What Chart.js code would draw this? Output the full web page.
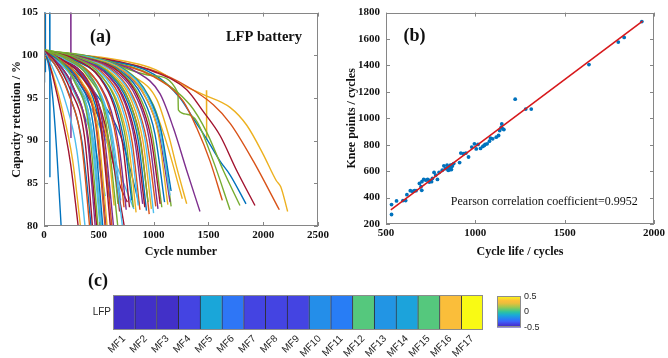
<!DOCTYPE html>
<html>
<head>
<meta charset="utf-8">
<script src="https://cdn.jsdelivr.net/npm/chart.js@4.4.1/dist/chart.umd.min.js"></script>
<style>
  html, body { margin: 0; padding: 0; background: #fff; }
  #wrap { position: relative; width: 668px; height: 358px; overflow: hidden; }
  #wrap canvas { position: absolute; }
  #lblC { position: absolute; left: 88px; top: 270px; font: bold 18px "Liberation Serif"; color: #111; }
</style>
</head>
<body>
<div id="wrap">
  <canvas id="ca" width="335" height="262" style="left:0;top:0"></canvas>
  <canvas id="cb" width="333" height="262" style="left:335px;top:0"></canvas>
  <canvas id="cc" width="428" height="73" style="left:60px;top:285px"></canvas>
  <canvas id="cd" width="60" height="48" style="left:490px;top:288px"></canvas>
  <div id="lblC">(c)</div>
</div>
<script>
// --- (a) capacity retention curves: [cycle, %, cycle, %, ...] -------------
// MATLAB default colour order, by letter
var PAL = { B: "#0072BD", O: "#D95319", Y: "#EDB120", P: "#7E2F8E",
  G: "#77AC30", C: "#4DBEEE", R: "#A2142F" };

// short-lived cells, run off the bottom of the axis
var shortCurves = [
  [0,100.2, 30,99.6, 80,95, 120,88, 165,78],
  [0,100.4, 50,98.9, 140,94.2, 240,87.5, 330,78],
  [0,100.1, 60,98.6, 160,94, 260,87.8, 350,78],
  [0,100.5, 70,98.8, 190,94.8, 300,88.8, 390,78],
  [0,100.3, 90,99.1, 220,95.6, 340,90, 430,78],
  [0,100.6, 100,99.3, 240,96, 370,90.4, 455,78],
  [0,100.3, 110,99.3, 260,96.4, 390,91, 480,78],
  [0,100.7, 120,99.7, 280,96.9, 410,91.6, 505,78],
  [0,100.2, 130,99.2, 295,96.5, 425,91.2, 525,78],
  [0,100.4, 140,99.4, 315,96.9, 450,91.8, 550,78],
  [0,100.3, 150,99.4, 330,96.9, 470,92, 570,78],
  [0,100.2, 160,99.3, 345,96.9, 485,92, 590,78],
  [0,100.5, 165,99.5, 360,97.2, 510,92.4, 620,78],
  [0,100.3, 175,99.4, 380,97.2, 530,92.4, 650,78],
  [0,100.6, 185,99.7, 400,97.5, 560,92.6, 690,78],
  [0,100.4, 190,99.5, 420,97.3, 590,92.2, 735,78],
  [0,100.3, 120,99.2, 270,96.2, 400,90.6, 495,78],
  [0,100.1, 95,99, 230,95.4, 350,89.6, 445,78],
  [0,100.4, 115,99.2, 265,96.3, 395,90.6, 500,78],
  [0,100.2, 170,99.4, 370,97, 520,92, 635,78],
  [0,100.3, 140,99.1, 305,96.4, 440,91, 540,78],
  [0,100.5, 180,99.5, 390,97.2, 560,91.8, 760,78],
  [0,100.4, 155,99.4, 340,96.8, 480,91.6, 580,78],
  [0,100.2, 130,99.3, 300,96.6, 435,91.2, 530,78]
];
var shortColors = "BRYCORPGCBOYRPGCRBYOCRPG";

// cells that end a little above 80 %
var midCurves = [
  [0,100.3, 210,99.2, 390,96.8, 492,93, 552,88.5, 600,83.2],
  [0,100.1, 224,99.1, 416,96.8, 525,93.2, 589,88.8, 640,82.4],
  [0,100.6, 236,99.6, 439,97.3, 554,93.8, 621,89.3, 675,82.6],
  [0,100.3, 245,99.3, 455,97, 574,93.5, 644,89, 700,83.0],
  [0,100.4, 256,99.4, 475,97.1, 599,93.6, 672,89.2, 730,82.2],
  [0,100.2, 262,99.2, 488,96.9, 615,93.4, 690,88.8, 750,81.9],
  [0,100.5, 273,99.6, 507,97.4, 640,94, 718,89.6, 780,82.2],
  [0,100.3, 280,99.4, 520,97.3, 656,93.9, 736,89.5, 800,83.0],
  [0,100.7, 285,99.7, 530,97.5, 668,94.2, 750,89.8, 815,82.2],
  [0,100.2, 294,99.3, 546,97.2, 689,93.9, 773,89.4, 840,81.6],
  [0,100.4, 301,99.5, 559,97.4, 705,94.1, 791,89.6, 860,82.4],
  [0,100.3, 306,99.5, 569,97.5, 718,94.3, 805,89.8, 875,81.9],
  [0,100.5, 315,99.6, 585,97.6, 738,94.4, 828,90, 900,82.6],
  [0,100.2, 322,99.4, 598,97.5, 754,94.2, 846,89.7, 920,82.2],
  [0,100.3, 327,99.5, 608,97.6, 767,94.4, 860,90, 935,81.8],
  [0,100.6, 333,99.7, 618,97.7, 779,94.6, 874,90.2, 950,82.8],
  [0,100.2, 343,99.5, 637,97.7, 804,94.5, 902,90, 980,82.0],
  [0,100.4, 350,99.6, 650,97.8, 820,94.6, 920,90.2, 1000,81.5],
  [0,100.3, 357,99.6, 663,97.8, 836,94.5, 938,90, 1020,82.3],
  [0,100.5, 364,99.7, 676,97.9, 853,94.8, 957,90.4, 1040,82.0],
  [0,100.4, 371,99.7, 689,98, 869,94.8, 975,90.4, 1060,82.6],
  [0,100.6, 376,99.8, 699,98, 882,94.9, 989,90.6, 1075,82.2],
  [0,100.3, 385,99.7, 715,98, 902,95, 1012,90.8, 1100,82.8],
  [0,100.2, 396,99.7, 735,98.1, 927,95.1, 1040,91, 1130,82.5],
  [0,100.4, 403,99.8, 748,98.1, 943,95.2, 1058,91, 1150,83.6],
  [0,100.3, 406,99.8, 754,98.1, 951,95.2, 1067,91.2, 1160,84.1],
  [0,100.2, 400,99.7, 740,98, 930,95, 1050,90.8, 1150,82.8],
  [0,100.5, 406,99.9, 754,98.2, 951,95.3, 1067,91.2, 1160,82.3],
  [0,100.4, 240,99.3, 450,96.9, 565,93.3, 635,88.6, 690,81.7],
  [0,100.3, 336,99.5, 624,97.6, 787,94.3, 883,89.9, 960,81.4],
  [0,100.3, 150,98.5, 300,95, 450,90, 560,83.5],
  [0,100.2, 200,98.6, 400,94.5, 600,89, 820,82],
  [0,100.1, 250,98.5, 500,95, 700,90.5, 870,82.5],
  [0,100.4, 180,98.9, 360,96, 540,91.5, 700,84.5, 760,82.8]
];
var midColors = "BYGCOPRBGYCOPRBGYCOPRGBYCBPGROCCBR";

// long-lived cells (top envelope)
var longCurves = [
  [0,100.2, 400,99.3, 780,97.4, 980,94.5, 1100,90.5, 1262,83.2],
  [0,100.3, 420,99.4, 820,97.5, 1030,94.8, 1140,90.5, 1210,86.9, 1302,82.6],
  [0,100.2, 450,99.5, 850,98, 1058,95.5, 1180,91.5, 1302,86.5, 1423,81.7],
  [0,100.4, 500,99.4, 1000,97.5, 1271,94.6, 1393,91.5, 1515,87.6, 1627,83.0],
  [0,100.6, 500,99.6, 1000,97.6, 1222,95.6, 1226,93.6, 1300,93.1, 1393,92.3, 1545,87.6, 1697,81.9],
  [0,100.5, 500,99.5, 1000,97.6, 1332,94.2, 1484,91, 1636,86.5, 1788,82.4],
  [0,100.3, 500,99.5, 1000,97.8, 1241,95, 1362,92.6, 1484,90.2, 1606,87.6, 1697,86.0, 1843,82.6],
  [0,100.5, 500,99.7, 1000,98.1, 1300,96, 1454,93.4, 1606,90.6, 1758,86.5, 1925,82.4],
  [0,100.2, 500,99.6, 1000,98.2, 1300,96.4, 1545,94.2, 1700,92, 1910,87.6, 2147,81.9],
  [0,100.3, 500,99.8, 1000,98.4, 1250,96.6, 1454,95.4, 1697,93.9, 1850,91.8, 2000,88.4, 2120,85.3, 2160,84.6, 2223,81.7]
];
var longColors = "YYPOGGBROY";

// measurement glitches (vertical spikes)
var glitchCurves = [
  [3,105.5, 5,96.8], [12,105.5, 13,98], [52,105.5, 54,85.7],
  [244,105.5, 246,90.3], [1482,95.9, 1484,90.1]
];
var glitchColors = "BBBPY";

// --- (b) knee point vs cycle life ------------------------------------------
var cycleLife = [531,531,559,595,610,617,636,647,659,668, 687,696,701,711,723,733,742,755,769,778,
  788,797,815,824,833,842,848,852,857,861, 866,870,879,912,919,934,947,962,980,995,
  1015,1029,1042,1055,1066,1079,1097,1117,1130,1136, 1145,1148,1154,1223,1282,1313,1636,1800,1833,1932,
  700,845,855,862,872,760,745,1160,1050,1085,1005];
var kneePoints = [272,347,375,377,377,422,452,447,452,452, 507,482,520,537,532,537,517,520,590,570,
  537,590,607,640,620,645,607,632,620,645, 612,637,657,665,737,732,737,707,782,807,
  802,772,787,802,807,827,845,857,870,907, 932,957,920,1145,1070,1070,1407,1577,1612,1732,
  455,625,610,628,650,545,530,915,795,850,768];
var fitX = [527, 1936];
var fitY = [307, 1735];

// --- (c) feature correlation heatmap ---------------------------------------
var mfLabels = ["MF1","MF2","MF3","MF4","MF5","MF6","MF7","MF8","MF9","MF10",
  "MF11","MF12","MF13","MF14","MF15","MF16","MF17"];
var mfValues = [-0.45,-0.45,-0.45,-0.38,-0.11,-0.25,-0.38,-0.38,-0.38,-0.18,
  -0.23,0.06,-0.16,-0.12,0.06,0.35,0.5];
var cbTicks = [-0.5, 0, 0.5];

// parula-like colour map stops [t, r, g, b]
var PARULA = [[0,62,38,168],[0.05,66,48,200],[0.10,70,60,220],[0.20,60,100,250],
  [0.27,40,125,245],[0.33,35,145,230],[0.40,25,170,215],[0.50,45,195,160],
  [0.56,85,200,125],[0.66,160,200,80],[0.78,235,190,60],[0.86,252,190,58],[1,249,250,20]];
function parula(v) {
  var t = Math.max(0, Math.min(1, (v - cbTicks[0]) / (cbTicks[2] - cbTicks[0])));
  for (var i = 0; i < PARULA.length - 1; i++) {
    var a = PARULA[i], b = PARULA[i + 1];
    if (t <= b[0]) {
      var f = (t - a[0]) / (b[0] - a[0]);
      return "rgb(" + Math.round(a[1] + (b[1] - a[1]) * f) + "," +
        Math.round(a[2] + (b[2] - a[2]) * f) + "," + Math.round(a[3] + (b[3] - a[3]) * f) + ")";
    }
  }
  return "rgb(249,250,20)";
}

// --- shared bits -------------------------------------------------------------
var INK = "#111";
var BOX = "#868686";
var SERIF = "Liberation Serif";
var tickFont = { family: SERIF, size: 11, weight: "bold" };
var titleFont = { family: SERIF, size: 12, weight: "bold" };
function plain(v) { return "" + v; }   // no thousands separators

// MATLAB-style box with inward tick marks
var frame = {
  id: "frame",
  afterDraw: function (chart, args, o) {
    var a = chart.chartArea, ctx = chart.ctx, t = o.tick || 0;
    ctx.save();
    ctx.strokeStyle = o.color; ctx.lineWidth = 1;
    ctx.strokeRect(Math.round(a.left) + 0.5, Math.round(a.top) + 0.5,
      Math.round(a.width) - 1, Math.round(a.height) - 1);
    if (t) {
      ctx.beginPath();
      chart.scales.x.ticks.forEach(function (k) {
        var p = Math.round(chart.scales.x.getPixelForValue(k.value)) + 0.5;
        ctx.moveTo(p, a.bottom); ctx.lineTo(p, a.bottom - t);
        ctx.moveTo(p, a.top); ctx.lineTo(p, a.top + t);
      });
      chart.scales.y.ticks.forEach(function (k) {
        var p = Math.round(chart.scales.y.getPixelForValue(k.value)) + 0.5;
        ctx.moveTo(a.left, p); ctx.lineTo(a.left + t, p);
        ctx.moveTo(a.right, p); ctx.lineTo(a.right - t, p);
      });
      ctx.stroke();
    }
    ctx.restore();
  }
};

// text placed at data coordinates
var notes = {
  id: "notes",
  afterDraw: function (chart, args, o) {
    var ctx = chart.ctx;
    ctx.save();
    (o.items || []).forEach(function (n) {
      ctx.font = n.font; ctx.fillStyle = INK;
      ctx.textAlign = n.align || "center"; ctx.textBaseline = "middle";
      ctx.fillText(n.text, chart.scales.x.getPixelForValue(n.x), chart.scales.y.getPixelForValue(n.y));
    });
    ctx.restore();
  }
};

function toPoints(flat) {
  var pts = [];
  for (var i = 0; i < flat.length; i += 2) pts.push({ x: flat[i], y: flat[i + 1] });
  return pts;
}
function curveSets(list, colors, smooth) {
  return list.map(function (c, i) {
    return { data: toPoints(c), borderColor: PAL[colors[i]], borderWidth: 1.4,
      pointRadius: 0, fill: false,
      cubicInterpolationMode: smooth ? "monotone" : "default", tension: 0 };
  });
}

function axisX(min, max, step, title, height) {
  return { type: "linear", min: min, max: max,
    ticks: { stepSize: step, font: tickFont, color: INK, padding: 3, maxRotation: 0, callback: plain },
    grid: { display: false, drawTicks: false }, border: { display: false },
    title: { display: true, text: title, font: titleFont, color: INK, padding: { top: 0, bottom: 3 } },
    afterFit: function (s) { s.height = height; } };
}
function axisY(min, max, step, title, width) {
  return { type: "linear", min: min, max: max,
    ticks: { stepSize: step, font: tickFont, color: INK, padding: 6, callback: plain },
    grid: { display: false, drawTicks: false }, border: { display: false },
    title: { display: true, text: title, font: titleFont, color: INK, padding: { top: 10, bottom: 0 } },
    afterFit: function (s) { s.width = width; } };
}

// --- (a) ---------------------------------------------------------------------
new Chart(document.getElementById("ca"), {
  type: "line",
  data: { datasets: curveSets(shortCurves, shortColors, true)
    .concat(curveSets(midCurves, midColors, true))
    .concat(curveSets(longCurves, longColors, true))
    .concat(curveSets(glitchCurves, glitchColors, false)) },
  options: {
    responsive: false, animation: false, events: [],
    layout: { padding: { left: 0, right: 17, top: 10, bottom: 0 } },
    plugins: {
      legend: { display: false }, tooltip: { enabled: false },
      frame: { color: BOX, tick: 4 },
      notes: { items: [
        { text: "(a)", x: 515, y: 102.05, font: "bold 18px 'Liberation Serif'" },
        { text: "LFP battery", x: 2007, y: 102.1, font: "bold 14.5px 'Liberation Serif'" }
      ] }
    },
    scales: {
      x: axisX(0, 2500, 500, "Cycle number", 36),
      y: axisY(80, 105, 5, "Capacity retention / %", 44)
    }
  },
  plugins: [frame, notes]
});

// --- (b) ---------------------------------------------------------------------
new Chart(document.getElementById("cb"), {
  type: "scatter",
  data: { datasets: [
    { type: "line", data: fitX.map(function (x, i) { return { x: x, y: fitY[i] }; }),
      borderColor: "#D7191C", borderWidth: 1.6, pointRadius: 0, order: 1 },
    { data: cycleLife.map(function (x, i) { return { x: x, y: kneePoints[i] }; }),
      backgroundColor: "#0072BD", borderWidth: 0, pointRadius: 1.9, order: 2 }
  ] },
  options: {
    responsive: false, animation: false, events: [],
    layout: { padding: { left: 0, right: 9, top: 11, bottom: 0 } },
    plugins: {
      legend: { display: false }, tooltip: { enabled: false },
      frame: { color: BOX, tick: 4 },
      notes: { items: [
        { text: "(b)", x: 659, y: 1620, font: "bold 18px 'Liberation Serif'" },
        { text: "Pearson correlation coefficient=0.9952", x: 863, y: 367, align: "left",
          font: "12px 'Liberation Serif'" }
      ] }
    },
    scales: {
      x: axisX(500, 2000, 500, "Cycle life / cycles", 38),
      y: axisY(200, 1800, 200, "Knee points / cycles", 51)
    }
  },
  plugins: [frame, notes]
});

// --- (c) heatmap -------------------------------------------------------------
var sansFont = { family: "Liberation Sans", size: 10 };
new Chart(document.getElementById("cc"), {
  type: "bar",
  data: { labels: mfLabels, datasets: [{
    data: mfLabels.map(function () { return [0, 1]; }),
    backgroundColor: mfValues.map(parula),
    borderColor: "#2e2e3a", borderWidth: { left: 1, right: 0, top: 0, bottom: 0 }, borderSkipped: false,
    barPercentage: 1, categoryPercentage: 1 }] },
  options: {
    responsive: false, animation: false, events: [],
    layout: { padding: { left: 0, right: 5, top: 10, bottom: 0 } },
    plugins: { legend: { display: false }, tooltip: { enabled: false },
      frame: { color: "#8c8c8c", tick: 0 } },
    scales: {
      x: { grid: { display: false, drawTicks: false }, border: { display: false },
        ticks: { minRotation: 45, maxRotation: 45, autoSkip: false, font: sansFont, color: "#262626", padding: 3 },
        afterFit: function (s) { s.height = 28; } },
      y: { min: 0, max: 1,
        afterBuildTicks: function (s) { s.ticks = [{ value: 0.5 }]; },
        ticks: { callback: function () { return "LFP"; }, font: sansFont, color: "#262626", padding: 2 },
        grid: { display: false, drawTicks: false }, border: { display: false },
        afterFit: function (s) { s.width = 53; } }
    }
  },
  plugins: [frame]
});

// --- (c) colour bar ----------------------------------------------------------
new Chart(document.getElementById("cd"), {
  type: "bar",
  data: { labels: [""], datasets: [{
    data: [[cbTicks[0], cbTicks[2]]], borderWidth: 0, barPercentage: 1, categoryPercentage: 1,
    backgroundColor: function (c) {
      var a = c.chart.chartArea;
      if (!a) return "#888";
      var g = c.chart.ctx.createLinearGradient(0, a.bottom, 0, a.top);
      PARULA.forEach(function (s) { g.addColorStop(s[0], "rgb(" + s[1] + "," + s[2] + "," + s[3] + ")"); });
      return g;
    } }] },
  options: {
    responsive: false, animation: false, events: [],
    layout: { padding: { left: 7, right: 0, top: 7, bottom: 6 } },
    plugins: { legend: { display: false }, tooltip: { enabled: false },
      frame: { color: "#8c8c8c", tick: 0 } },
    scales: {
      x: { display: false },
      y: { position: "right", min: cbTicks[0], max: cbTicks[2],
        afterBuildTicks: function (s) { s.ticks = cbTicks.map(function (v) { return { value: v }; }); },
        ticks: { font: { family: "Liberation Sans", size: 9 }, color: "#262626", padding: 3 },
        grid: { display: false, drawTicks: false }, border: { display: false },
        afterFit: function (s) { s.width = 29; } }
    }
  },
  plugins: [frame]
});
</script>
</body>
</html>
